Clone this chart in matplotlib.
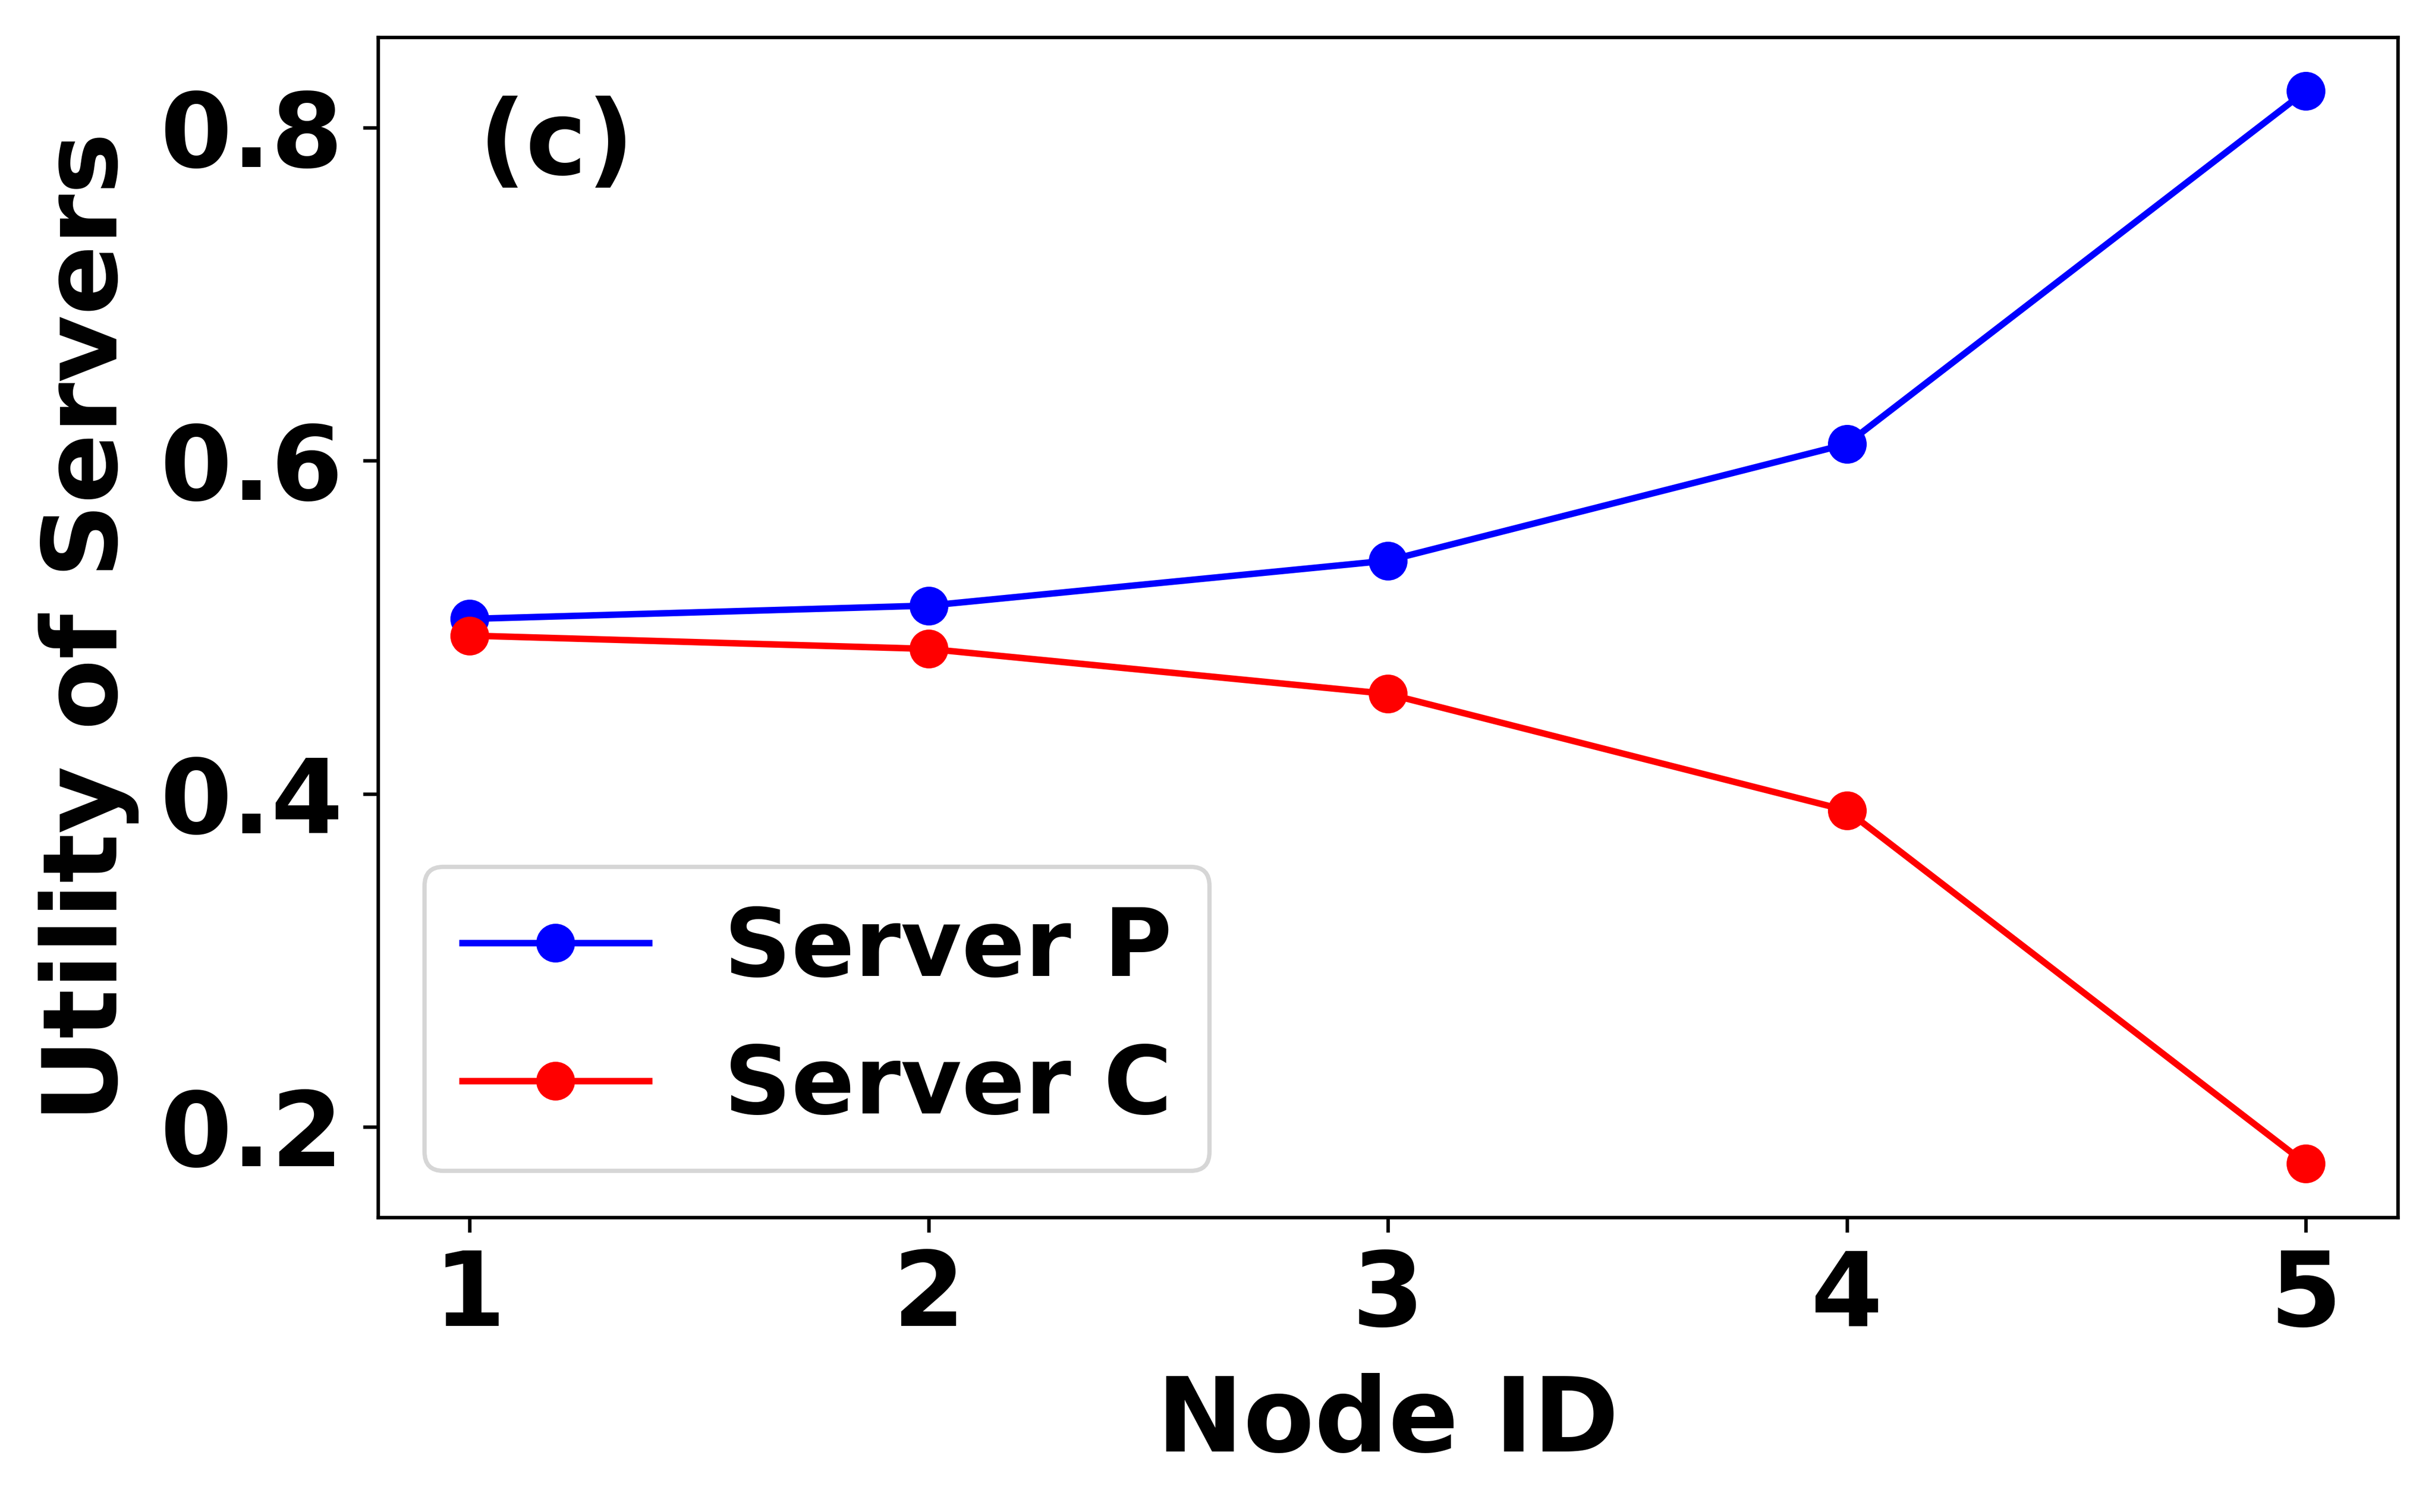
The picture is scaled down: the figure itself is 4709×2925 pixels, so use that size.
import matplotlib
matplotlib.use("Agg")
import matplotlib.pyplot as plt

# data
node_id  = [1, 2, 3, 4, 5]
server_p = [0.505, 0.513, 0.540, 0.610, 0.822]
server_c = [0.495, 0.487, 0.460, 0.390, 0.178]

plt.rcParams['font.weight'] = 'bold'
plt.rcParams['axes.labelweight'] = 'bold'

fig = plt.figure(figsize=(4709/600, 2925/600), dpi=600)
ax = fig.add_axes([0.1552, 0.1949, 0.9847-0.1552, 0.9754-0.1949])

ax.plot(node_id, server_p, 'b-o', lw=1.5, markersize=8, label='Server P')
ax.plot(node_id, server_c, 'r-o', lw=1.5, markersize=8, label='Server C')

ax.set_xticks(node_id)
ax.set_yticks([0.2, 0.4, 0.6, 0.8])
ax.tick_params(labelsize=24)
ax.tick_params(axis='y', pad=4.6)
ax.set_xlabel('Node ID', fontsize=24, labelpad=5.9)
ax.set_ylabel('Utility of Servers', fontsize=24, labelpad=4.8)
ax.text(0.05, 0.908, '(c)', transform=ax.transAxes, fontsize=24,
        fontweight='bold', va='center')
ax.legend(loc='lower left', fontsize=21.7)

fig.savefig('out.png', dpi=600)
